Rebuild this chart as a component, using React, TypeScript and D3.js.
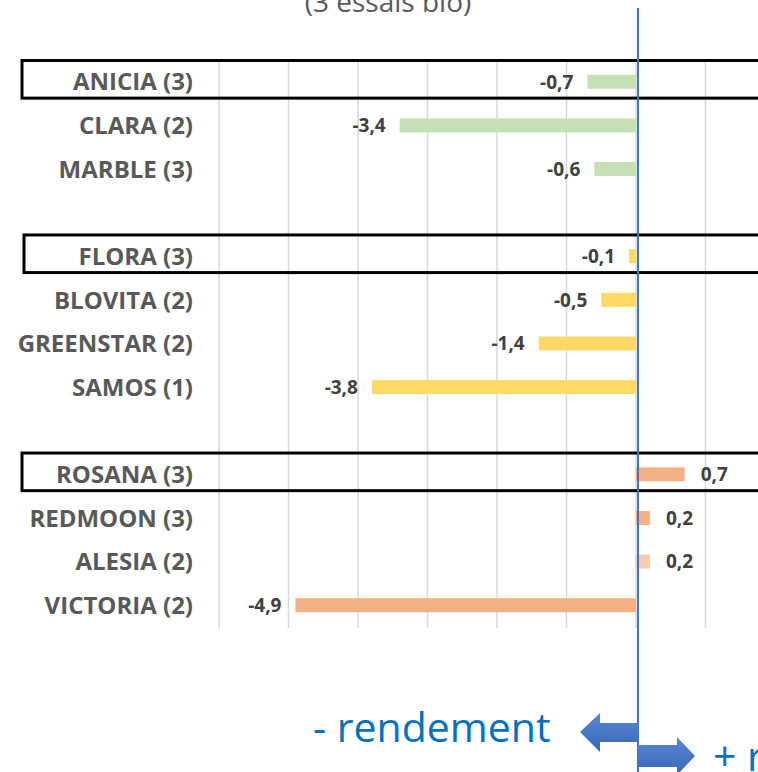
import React from "react";
import * as d3 from "d3";

// rows in display order, "" = spacer row between groups
const varieties = [
  "ANICIA (3)", "CLARA (2)", "MARBLE (3)", "",
  "FLORA (3)", "BLOVITA (2)", "GREENSTAR (2)", "SAMOS (1)", "",
  "ROSANA (3)", "REDMOON (3)", "ALESIA (2)", "VICTORIA (2)",
];
const values: (number | null)[] = [
  -0.7, -3.4, -0.6, null,
  -0.1, -0.5, -1.4, -3.8, null,
  0.7, 0.2, 0.2, -4.9,
];
const barColors = [
  "#C5E0B4", "#C5E0B4", "#C5E0B4", "",
  "#FFD966", "#FFD966", "#FFD966", "#FFD966", "",
  "#F4B183", "#F4B183", "#F8CBAD", "#F4B183",
];
const boxed = ["ANICIA (3)", "FLORA (3)", "ROSANA (3)"];
const gridTicks = [-6, -5, -4, -3, -2, -1, 0, 1, 2];

const W = 758;
const H = 772;

export default function App() {
  const x = d3.scaleLinear().domain([-6, 2]).range([219, 775]);
  const y = d3
    .scaleBand<number>()
    .domain(varieties.map((_, i) => i))
    .range([60, 627])
    .paddingInner(0.68)
    .paddingOuter(0.34);
  const band = y.step();
  // Excel style: comma decimal, plain hyphen
  const fmt = (v: number) => (v < 0 ? "-" : "") + d3.format(".1f")(Math.abs(v)).replace(".", ",");
  const lineX = x(0) + 2;

  return (
    <svg
      width={W}
      height={H}
      style={{ position: "absolute", left: 0, top: 0, background: "#fff" }}
      fontFamily="'Open Sans', sans-serif"
    >
      <defs>
        <linearGradient id="arrowGrad" x1="0" y1="0" x2="0" y2="1">
          <stop offset="0" stopColor="#5B87D6" />
          <stop offset="1" stopColor="#3A66B8" />
        </linearGradient>
      </defs>

      {/* title, cut off at the top */}
      <text x={388} y={12} textAnchor="middle" fontSize={28} fill="#595959">
        (3 essais bio)
      </text>

      {/* vertical gridlines */}
      {gridTicks.map((t) => (
        <line
          key={t}
          x1={x(t)}
          x2={x(t)}
          y1={60}
          y2={628}
          stroke="#D9D9D9"
          strokeWidth={1.5}
        />
      ))}

      {/* bars */}
      {values.map((v, i) =>
        v === null ? null : (
          <rect
            key={i}
            x={Math.min(x(0), x(v))}
            y={y(i)!}
            width={Math.abs(x(v) - x(0))}
            height={y.bandwidth()}
            fill={barColors[i]}
          />
        )
      )}

      {/* value labels */}
      {values.map((v, i) =>
        v === null ? null : (
          <text
            key={"v" + i}
            x={v < 0 ? x(v) - 14 : x(v) + 16}
            y={y(i)! + y.bandwidth() / 2}
            dy="0.36em"
            textAnchor={v < 0 ? "end" : "start"}
            fontSize={19}
            fontWeight="bold"
            fill="#404040"
          >
            {fmt(v)}
          </text>
        )
      )}

      {/* category labels */}
      {varieties.map((c, i) =>
        c ? (
          <text
            key={"c" + i}
            x={193}
            y={y(i)! + y.bandwidth() / 2}
            dy="0.36em"
            textAnchor="end"
            fontSize={24}
            fontWeight="bold"
            fill="#595959"
          >
            {c}
          </text>
        ) : null
      )}

      {/* highlighted rows */}
      {varieties.map((c, i) =>
        boxed.includes(c) ? (
          <rect
            key={"b" + i}
            x={c === "FLORA (3)" ? 24 : 22}
            y={y(i)! + y.bandwidth() / 2 - band / 2 + 0.5}
            width={W}
            height={band - 6}
            fill="none"
            stroke="#000"
            strokeWidth={3}
          />
        ) : null
      )}

      {/* zero line */}
      <line x1={lineX} x2={lineX} y1={8} y2={H} stroke="#4472C4" strokeWidth={2} />

      {/* arrows */}
      <path
        d={`M${lineX},723 L600,723 L600,713 L580,732 L600,752 L600,742 L${lineX},742 Z`}
        fill="url(#arrowGrad)"
      />
      <path
        d={`M${lineX},745 L677,745 L677,737 L695,756 L677,775 L677,767 L${lineX},767 Z`}
        fill="url(#arrowGrad)"
      />
      <text x={313} y={742} fontSize={41} fill="#0070C0">
        - rendement
      </text>
      <text x={713} y={771} fontSize={41} fill="#0070C0">
        + rendement
      </text>
    </svg>
  );
}
